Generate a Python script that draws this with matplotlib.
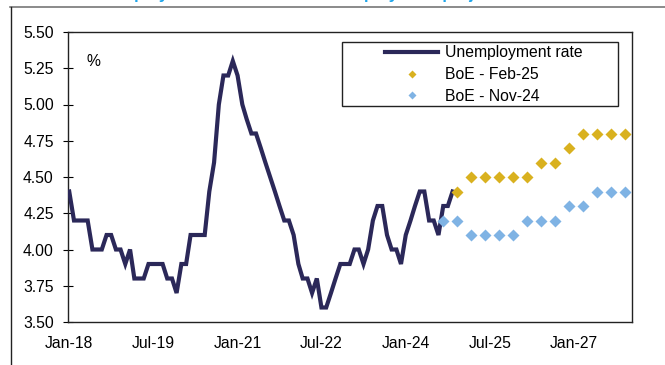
import matplotlib
matplotlib.use("Agg")
import matplotlib.pyplot as plt
import matplotlib.dates as mdates
import pandas as pd
from matplotlib.lines import Line2D
from matplotlib.patches import Rectangle

plt.rcParams["font.family"] = ["Liberation Sans", "DejaVu Sans"]

# LFS unemployment rate, monthly from Jan-18
unemployment_start = "2018-01-01"
unemployment = [
    4.4, 4.2, 4.2, 4.2, 4.2, 4.0, 4.0, 4.0, 4.1, 4.1, 4.0, 4.0,
    3.9, 4.0, 3.8, 3.8, 3.8, 3.9, 3.9, 3.9, 3.9, 3.8, 3.8, 3.7,
    3.9, 3.9, 4.1, 4.1, 4.1, 4.1, 4.4, 4.6, 5.0, 5.2, 5.2, 5.3,
    5.2, 5.0, 4.9, 4.8, 4.8, 4.7, 4.6, 4.5, 4.4, 4.3, 4.2, 4.2,
    4.1, 3.9, 3.8, 3.8, 3.7, 3.8, 3.6, 3.6, 3.7, 3.8, 3.9, 3.9,
    3.9, 4.0, 4.0, 3.9, 4.0, 4.2, 4.3, 4.3, 4.1, 4.0, 4.0, 3.9,
    4.1, 4.2, 4.3, 4.4, 4.4, 4.2, 4.2, 4.1, 4.3, 4.3, 4.4,
]

# BoE projections, quarterly
feb25_start = "2024-12-01"
feb25 = [4.4, 4.5, 4.5, 4.5, 4.5, 4.5, 4.6, 4.6, 4.7, 4.8, 4.8, 4.8, 4.8]
nov24_start = "2024-09-01"
nov24 = [4.2, 4.2, 4.1, 4.1, 4.1, 4.1, 4.2, 4.2, 4.2, 4.3, 4.3, 4.4, 4.4, 4.4]

y_ticks = [3.50, 3.75, 4.00, 4.25, 4.50, 4.75, 5.00, 5.25, 5.50]
x_tick_start = "2018-01-01"
x_tick_count = 7

NAVY = "#2b2859"
GOLD = "#d9b11f"
SKY = "#7fb3e4"
FS = 11.3

W, H = 665, 365
fig = plt.figure(figsize=(W / 100, H / 100), dpi=100)
ax = fig.add_axes([68 / W, 43 / H, 564 / W, 290 / H])

months = pd.date_range(unemployment_start, periods=len(unemployment), freq="MS")
q_feb = pd.date_range(feb25_start, periods=len(feb25), freq="3MS")
q_nov = pd.date_range(nov24_start, periods=len(nov24), freq="3MS")

line, = ax.plot(months, unemployment, color=NAVY, lw=3.0,
                solid_joinstyle="miter", label="Unemployment rate", zorder=3)
feb, = ax.plot(q_feb, feb25, ls="none", marker="D", ms=6.6, color=GOLD,
               mec="none", label="BoE - Feb-25", zorder=4)
nov, = ax.plot(q_nov, nov24, ls="none", marker="D", ms=6.6, color=SKY,
               mec="none", label="BoE - Nov-24", zorder=4)

ax.set_ylim(3.5, 5.5)
ax.set_yticks(y_ticks)
ax.yaxis.set_major_formatter(matplotlib.ticker.FormatStrFormatter("%.2f"))
ax.set_xlim(pd.Timestamp("2017-12-24"), pd.Timestamp("2028-01-13"))
ax.set_xticks(pd.date_range(x_tick_start, periods=x_tick_count, freq="18MS"))
ax.xaxis.set_major_formatter(mdates.DateFormatter("%b-%y"))

ax.tick_params(axis="y", direction="inout", length=6.5, width=0.8,
               labelsize=FS, pad=7)
ax.tick_params(axis="x", length=0, labelsize=FS, pad=10)
for s in ax.spines.values():
    s.set_color("#222222")
    s.set_linewidth(1.0)

ax.text(0.032, 0.9, "%", transform=ax.transAxes, fontsize=FS,
        ha="left", va="center")

# legend box drawn separately so it can be wider than its entries
ax.add_patch(Rectangle((342 / W, 1 - 105.7 / H), 276 / W, 63.4 / H,
                       transform=fig.transFigure, facecolor="white",
                       edgecolor="#222222", lw=1.0, clip_on=False, zorder=4.5))
leg = ax.legend(handles=[line, feb, nov], loc="upper left",
                bbox_to_anchor=(385 / W, 1 - 45.5 / H),
                bbox_transform=fig.transFigure, frameon=False, fontsize=FS,
                handlelength=3.4, handletextpad=0.4, labelspacing=0.42,
                borderpad=0, borderaxespad=0, markerscale=0.55)
leg.set_zorder(5)

# outer chart border and clipped heading
fig.add_artist(Line2D([10 / W, 1], [1 - 7 / H, 1 - 7 / H],
                      transform=fig.transFigure, color="#777777", lw=1.2))
fig.add_artist(Line2D([11 / W, 11 / W], [0, 1 - 7 / H],
                      transform=fig.transFigure, color="#222222", lw=1.0))
fig.text(88 / W, 1 + 0.5 / H, "Unemployment rate and BoE unemployment projections",
         color="#1ea5ea", fontsize=12, fontweight="bold", va="baseline")

fig.savefig("out.png", dpi=100)
